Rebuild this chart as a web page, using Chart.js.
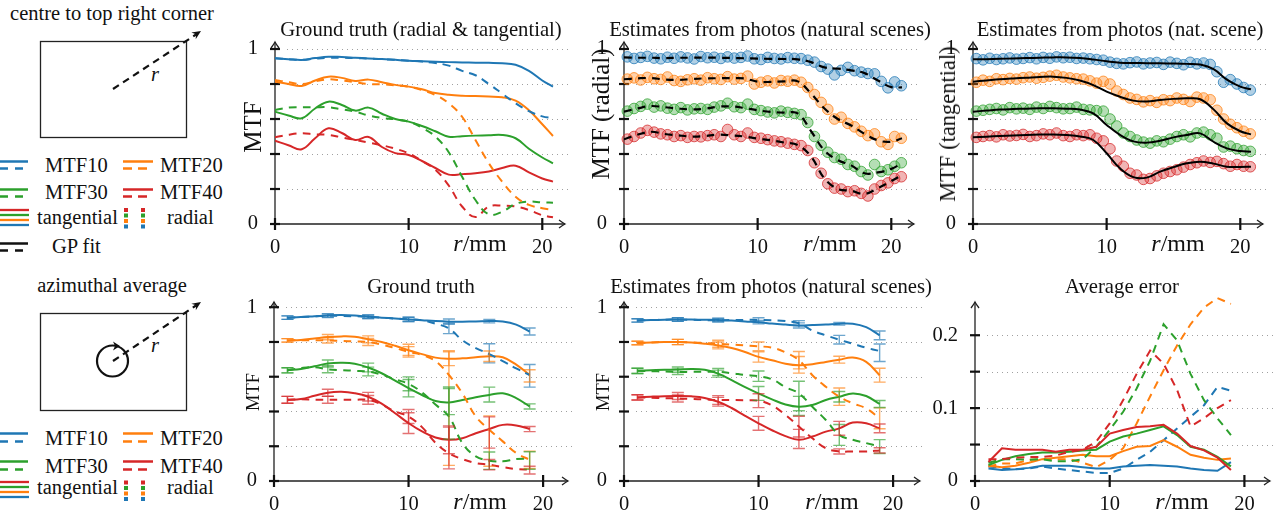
<!DOCTYPE html>
<html>
<head>
<meta charset="utf-8">
<title>MTF</title>
<script src="https://cdn.jsdelivr.net/npm/chart.js@4.4.1/dist/chart.umd.min.js"></script>
<style>
	body { margin: 0; width: 1279px; height: 513px; position: relative; overflow: hidden; background: #fff;
		font-family: "Liberation Serif", "Times New Roman", serif; color: #111; }
	canvas { position: absolute; }
	svg { position: absolute; left: 0; top: 0; }
	.ttl { position: absolute; white-space: nowrap; font-size: 20.7px; transform: translate(-50%, -50%); }
	.xl { position: absolute; white-space: nowrap; font-size: 24px; transform: translate(-50%, -50%); }
	.yl { position: absolute; white-space: nowrap; font-size: 20px; transform: translate(-50%, -50%) rotate(-90deg); }
</style>
</head>
<body>

<svg width="240" height="513" font-family="Liberation Serif, Times New Roman, serif" font-size="20.5" fill="#111">
	<!-- centre to top right corner -->
	<text x="112" y="20" text-anchor="middle">centre to top right corner</text>
	<rect x="40.5" y="41.5" width="146" height="96" fill="none" stroke="#222" stroke-width="1.3"/>
	<line x1="113" y1="89" x2="196" y2="34.5" stroke="#111" stroke-width="2.2" stroke-dasharray="7 5"/>
	<path d="M201,31 L195.7,39.3 L196,34.3 L191.3,32.6 Z" fill="#111"/>
	<text x="155" y="81" font-style="italic" text-anchor="middle">r</text>

	<line x1="0" y1="161.5" x2="28" y2="161.5" stroke="#1f77b4" stroke-width="2.5"/>
	<line x1="0" y1="168.5" x2="28" y2="168.5" stroke="#1f77b4" stroke-width="2.5" stroke-dasharray="8 7"/>
	<text x="45" y="172">MTF10</text>
	<line x1="123" y1="161.5" x2="153" y2="161.5" stroke="#ff7f0e" stroke-width="2.5"/>
	<line x1="123" y1="168.5" x2="153" y2="168.5" stroke="#ff7f0e" stroke-width="2.5" stroke-dasharray="9 6"/>
	<text x="160" y="172">MTF20</text>
	<line x1="0" y1="189.5" x2="28" y2="189.5" stroke="#2ca02c" stroke-width="2.5"/>
	<line x1="0" y1="196.5" x2="28" y2="196.5" stroke="#2ca02c" stroke-width="2.5" stroke-dasharray="8 7"/>
	<text x="45" y="199">MTF30</text>
	<line x1="123" y1="189.5" x2="153" y2="189.5" stroke="#d62728" stroke-width="2.5"/>
	<line x1="123" y1="196.5" x2="153" y2="196.5" stroke="#d62728" stroke-width="2.5" stroke-dasharray="9 6"/>
	<text x="160" y="199">MTF40</text>
	<line x1="0" y1="210" x2="29" y2="210" stroke="#d62728" stroke-width="2.3"/>
	<line x1="0" y1="215" x2="29" y2="215" stroke="#2ca02c" stroke-width="2.3"/>
	<line x1="0" y1="220" x2="29" y2="220" stroke="#ff7f0e" stroke-width="2.3"/>
	<line x1="0" y1="225" x2="29" y2="225" stroke="#1f77b4" stroke-width="2.3"/>
	<text x="37" y="224">tangential</text>
	<rect x="124" y="208" width="4" height="4" fill="#d62728"/><rect x="141" y="208" width="4" height="4" fill="#d62728"/>
	<rect x="124" y="213.5" width="4" height="4" fill="#2ca02c"/><rect x="141" y="213.5" width="4" height="4" fill="#2ca02c"/>
	<rect x="124" y="219" width="4" height="4" fill="#ff7f0e"/><rect x="141" y="219" width="4" height="4" fill="#ff7f0e"/>
	<rect x="124" y="224.5" width="4" height="4" fill="#1f77b4"/><rect x="141" y="224.5" width="4" height="4" fill="#1f77b4"/>
	<text x="167" y="224">radial</text>
	<line x1="0" y1="243.5" x2="28" y2="243.5" stroke="#111" stroke-width="2.5"/>
	<line x1="0" y1="250.5" x2="28" y2="250.5" stroke="#111" stroke-width="2.5" stroke-dasharray="8 7"/>
	<text x="52" y="253">GP fit</text>

	<!-- azimuthal average -->
	<text x="112" y="292" text-anchor="middle">azimuthal average</text>
	<rect x="40.5" y="313.5" width="146" height="97" fill="none" stroke="#222" stroke-width="1.3"/>
	<line x1="113" y1="361" x2="196" y2="305.5" stroke="#111" stroke-width="2.2" stroke-dasharray="7 5"/>
	<path d="M201,302 L195.8,310.3 L196,305.3 L191.3,303.7 Z" fill="#111"/>
	<text x="155" y="352" font-style="italic" text-anchor="middle">r</text>
	<circle cx="112.5" cy="361" r="15.5" fill="none" stroke="#111" stroke-width="2.2"/>
	<path d="M120,346 L113,341.5 L115,346 L113,350.5 Z" fill="#111"/>

	<line x1="0" y1="433.5" x2="28" y2="433.5" stroke="#1f77b4" stroke-width="2.5"/>
	<line x1="0" y1="441.5" x2="28" y2="441.5" stroke="#1f77b4" stroke-width="2.5" stroke-dasharray="8 7"/>
	<text x="45" y="445">MTF10</text>
	<line x1="123" y1="433.5" x2="153" y2="433.5" stroke="#ff7f0e" stroke-width="2.5"/>
	<line x1="123" y1="441.5" x2="153" y2="441.5" stroke="#ff7f0e" stroke-width="2.5" stroke-dasharray="9 6"/>
	<text x="160" y="445">MTF20</text>
	<line x1="0" y1="461.5" x2="28" y2="461.5" stroke="#2ca02c" stroke-width="2.5"/>
	<line x1="0" y1="469.5" x2="28" y2="469.5" stroke="#2ca02c" stroke-width="2.5" stroke-dasharray="8 7"/>
	<text x="45" y="473">MTF30</text>
	<line x1="123" y1="461.5" x2="153" y2="461.5" stroke="#d62728" stroke-width="2.5"/>
	<line x1="123" y1="469.5" x2="153" y2="469.5" stroke="#d62728" stroke-width="2.5" stroke-dasharray="9 6"/>
	<text x="160" y="473">MTF40</text>
	<line x1="0" y1="482" x2="29" y2="482" stroke="#d62728" stroke-width="2.3"/>
	<line x1="0" y1="487" x2="29" y2="487" stroke="#2ca02c" stroke-width="2.3"/>
	<line x1="0" y1="492" x2="29" y2="492" stroke="#ff7f0e" stroke-width="2.3"/>
	<line x1="0" y1="497" x2="29" y2="497" stroke="#1f77b4" stroke-width="2.3"/>
	<text x="37" y="494">tangential</text>
	<rect x="124" y="480.5" width="4" height="4" fill="#d62728"/><rect x="141" y="480.5" width="4" height="4" fill="#d62728"/>
	<rect x="124" y="486" width="4" height="4" fill="#2ca02c"/><rect x="141" y="486" width="4" height="4" fill="#2ca02c"/>
	<rect x="124" y="491.5" width="4" height="4" fill="#ff7f0e"/><rect x="141" y="491.5" width="4" height="4" fill="#ff7f0e"/>
	<rect x="124" y="497" width="4" height="4" fill="#1f77b4"/><rect x="141" y="497" width="4" height="4" fill="#1f77b4"/>
	<text x="167" y="494">radial</text>
</svg>

<canvas id="c1"></canvas>
<canvas id="c2"></canvas>
<canvas id="c3"></canvas>
<canvas id="c4"></canvas>
<canvas id="c5"></canvas>
<canvas id="c6"></canvas>

<div class="ttl" style="left:421px;top:29px">Ground truth (radial &amp; tangential)</div>
<div class="ttl" style="left:770px;top:29px">Estimates from photos (natural scenes)</div>
<div class="ttl" style="left:1120px;top:29px">Estimates from photos (nat. scene)</div>
<div class="ttl" style="left:421px;top:286px">Ground truth</div>
<div class="ttl" style="left:771px;top:286px">Estimates from photos (natural scenes)</div>
<div class="ttl" style="left:1122px;top:286px">Average error</div>

<div class="yl" style="left:253px;top:127px;font-size:25px">MTF</div>
<div class="yl" style="left:601px;top:114px;font-size:25px">MTF (radial)</div>
<div class="yl" style="left:948px;top:124px;font-size:22.5px">MTF (tangential)</div>
<div class="yl" style="left:253px;top:392px;font-size:18.5px">MTF</div>
<div class="yl" style="left:603px;top:392px;font-size:18.5px">MTF</div>

<div class="xl" style="left:480px;top:243px"><i>r</i>/mm</div>
<div class="xl" style="left:830px;top:243px"><i>r</i>/mm</div>
<div class="xl" style="left:1178px;top:243px"><i>r</i>/mm</div>
<div class="xl" style="left:480px;top:501px"><i>r</i>/mm</div>
<div class="xl" style="left:832px;top:501px"><i>r</i>/mm</div>
<div class="xl" style="left:1182px;top:501px"><i>r</i>/mm</div>

<script>
// r positions (mm)
const xTop = [0, 1, 2, 3, 4, 5, 6, 7, 8, 9, 10, 11, 12, 13, 14, 15, 16, 17, 18, 19, 20, 20.8];
const xDots = [0.25, 0.75, 1.25, 1.75, 2.25, 2.75, 3.25, 3.75, 4.25, 4.75, 5.25, 5.75, 6.25, 6.75,
	7.25, 7.75, 8.25, 8.75, 9.25, 9.75, 10.25, 10.75, 11.25, 11.75, 12.25, 12.75, 13.25, 13.75,
	14.25, 14.75, 15.25, 15.75, 16.25, 16.75, 17.25, 17.75, 18.25, 18.75, 19.25, 19.75, 20.25, 20.75];
const xAvg = [1, 2, 3, 4, 5, 6, 7, 8, 9, 10, 11, 12, 13, 14, 15, 16, 17, 18, 19];
const xErr = [1, 4, 7, 10, 13, 16, 19];

// Ground truth (radial & tangential)
const gtTanBlue = [0.947,0.942,0.937,0.948,0.956,0.954,0.95,0.946,0.943,0.938,0.933,0.93,0.927,0.925,0.923,0.922,0.921,0.919,0.91,0.875,0.82,0.785];
const gtRadBlue = [0.947,0.942,0.938,0.945,0.95,0.95,0.948,0.945,0.942,0.938,0.933,0.928,0.92,0.905,0.875,0.85,0.8,0.745,0.69,0.645,0.615,0.605];
const gtTanOrange = [0.813,0.8,0.789,0.82,0.842,0.835,0.817,0.825,0.81,0.795,0.785,0.77,0.748,0.738,0.733,0.731,0.728,0.724,0.705,0.65,0.57,0.503];
const gtRadOrange = [0.823,0.81,0.8,0.815,0.827,0.82,0.81,0.8,0.798,0.792,0.785,0.765,0.737,0.69,0.613,0.48,0.347,0.242,0.156,0.109,0.09,0.08];
const gtTanGreen = [0.642,0.62,0.604,0.66,0.699,0.68,0.648,0.665,0.63,0.6,0.585,0.56,0.53,0.499,0.502,0.505,0.507,0.509,0.49,0.43,0.38,0.347];
const gtRadGreen = [0.651,0.665,0.667,0.667,0.667,0.655,0.642,0.62,0.606,0.598,0.585,0.55,0.5,0.41,0.27,0.137,0.055,0.07,0.115,0.128,0.123,0.122];
const gtTanRed = [0.476,0.45,0.427,0.49,0.547,0.52,0.48,0.497,0.44,0.405,0.394,0.36,0.32,0.282,0.285,0.29,0.3,0.32,0.333,0.295,0.26,0.242];
const gtRadRed = [0.495,0.51,0.518,0.512,0.509,0.495,0.48,0.465,0.45,0.43,0.404,0.36,0.31,0.22,0.1,0.04,0.1,0.105,0.1,0.08,0.05,0.038];

// Estimates, radial: GP fit + per-photo estimates
const fitRadBlue = [0.952,0.95,0.95,0.948,0.95,0.95,0.951,0.95,0.949,0.947,0.945,0.944,0.943,0.941,0.925,0.895,0.888,0.878,0.862,0.82,0.782,0.781];
const fitRadOrange = [0.827,0.832,0.834,0.826,0.823,0.828,0.832,0.833,0.833,0.832,0.813,0.812,0.815,0.815,0.745,0.66,0.6,0.563,0.515,0.478,0.47,0.49];
const fitRadGreen = [0.642,0.66,0.674,0.668,0.66,0.655,0.658,0.67,0.672,0.663,0.65,0.64,0.636,0.632,0.53,0.42,0.365,0.335,0.29,0.295,0.315,0.347];
const fitRadRed = [0.484,0.51,0.527,0.515,0.507,0.5,0.502,0.51,0.507,0.5,0.488,0.478,0.465,0.451,0.385,0.26,0.2,0.19,0.172,0.205,0.245,0.28];
const dotRadBlue = [0.955,0.946,0.952,0.958,0.948,0.944,0.953,0.947,0.955,0.949,0.943,0.957,0.95,0.953,0.946,0.955,0.948,0.952,0.96,0.944,0.94,0.952,0.946,0.943,0.951,0.947,0.945,0.936,0.925,0.9,0.885,0.852,0.878,0.895,0.876,0.868,0.86,0.858,0.815,0.778,0.812,0.79];
const dotRadOrange = [0.828,0.835,0.823,0.838,0.83,0.826,0.84,0.82,0.815,0.824,0.83,0.822,0.836,0.83,0.826,0.842,0.828,0.832,0.845,0.8,0.81,0.818,0.806,0.82,0.816,0.822,0.81,0.78,0.74,0.695,0.655,0.6,0.61,0.575,0.555,0.53,0.505,0.515,0.47,0.455,0.5,0.49];
const dotRadGreen = [0.645,0.66,0.672,0.685,0.668,0.675,0.662,0.655,0.665,0.652,0.658,0.66,0.655,0.668,0.675,0.69,0.67,0.665,0.685,0.655,0.648,0.64,0.635,0.645,0.638,0.632,0.625,0.58,0.5,0.45,0.41,0.38,0.37,0.34,0.33,0.3,0.28,0.34,0.3,0.31,0.33,0.35];
const dotRadRed = [0.485,0.5,0.52,0.535,0.525,0.515,0.51,0.5,0.505,0.495,0.5,0.498,0.505,0.51,0.5,0.54,0.51,0.5,0.52,0.495,0.49,0.482,0.475,0.47,0.462,0.455,0.448,0.42,0.35,0.29,0.23,0.205,0.2,0.185,0.19,0.175,0.16,0.2,0.22,0.235,0.26,0.27];

// Estimates, tangential
const fitTanBlue = [0.941,0.942,0.944,0.946,0.948,0.95,0.952,0.952,0.948,0.94,0.93,0.922,0.92,0.919,0.918,0.917,0.915,0.911,0.885,0.825,0.785,0.77];
const fitTanOrange = [0.813,0.82,0.827,0.832,0.836,0.84,0.842,0.835,0.82,0.794,0.756,0.727,0.705,0.7,0.709,0.715,0.718,0.713,0.655,0.575,0.53,0.512];
const fitTanGreen = [0.642,0.648,0.654,0.657,0.659,0.661,0.661,0.659,0.654,0.632,0.566,0.509,0.472,0.465,0.476,0.495,0.509,0.518,0.47,0.432,0.417,0.413];
const fitTanRed = [0.495,0.499,0.503,0.506,0.509,0.511,0.512,0.508,0.5,0.48,0.404,0.318,0.268,0.265,0.299,0.325,0.347,0.356,0.345,0.327,0.326,0.327];
const dotTanBlue = [0.945,0.938,0.947,0.94,0.944,0.949,0.942,0.946,0.951,0.944,0.952,0.947,0.955,0.95,0.953,0.946,0.948,0.944,0.94,0.936,0.925,0.918,0.915,0.922,0.926,0.915,0.92,0.923,0.912,0.925,0.918,0.91,0.924,0.915,0.92,0.912,0.87,0.81,0.825,0.8,0.78,0.765];
const dotTanOrange = [0.81,0.822,0.815,0.83,0.825,0.832,0.828,0.836,0.84,0.833,0.838,0.845,0.85,0.84,0.835,0.83,0.828,0.818,0.805,0.815,0.8,0.76,0.74,0.72,0.712,0.698,0.705,0.695,0.71,0.705,0.72,0.712,0.7,0.725,0.72,0.71,0.65,0.6,0.57,0.55,0.53,0.515];
const dotTanGreen = [0.645,0.65,0.655,0.66,0.652,0.665,0.658,0.662,0.655,0.668,0.66,0.672,0.665,0.658,0.66,0.668,0.655,0.652,0.648,0.645,0.6,0.56,0.52,0.5,0.48,0.468,0.462,0.475,0.47,0.485,0.5,0.51,0.498,0.52,0.525,0.51,0.49,0.44,0.445,0.43,0.42,0.415];
const dotTanRed = [0.495,0.5,0.505,0.498,0.51,0.503,0.506,0.512,0.5,0.505,0.515,0.51,0.52,0.505,0.5,0.51,0.505,0.51,0.49,0.475,0.43,0.36,0.33,0.29,0.28,0.255,0.26,0.275,0.29,0.3,0.31,0.325,0.34,0.35,0.36,0.352,0.358,0.345,0.33,0.34,0.33,0.327];

// Ground truth, azimuthal average
const gtAvgTanBlue = [0.94,0.943,0.948,0.953,0.955,0.952,0.945,0.94,0.935,0.93,0.925,0.92,0.917,0.917,0.918,0.92,0.918,0.9,0.86];
const gtAvgRadBlue = [0.94,0.943,0.947,0.95,0.95,0.948,0.945,0.94,0.935,0.93,0.925,0.905,0.878,0.81,0.765,0.73,0.69,0.648,0.61];
const gtAvgTanOrange = [0.809,0.812,0.82,0.828,0.832,0.83,0.815,0.8,0.778,0.752,0.73,0.71,0.704,0.706,0.712,0.718,0.712,0.67,0.61];
const gtAvgRadOrange = [0.809,0.81,0.81,0.809,0.806,0.803,0.8,0.785,0.765,0.743,0.725,0.69,0.61,0.504,0.371,0.295,0.228,0.161,0.122];
const gtAvgTanGreen = [0.637,0.645,0.66,0.676,0.68,0.675,0.653,0.62,0.578,0.534,0.495,0.46,0.452,0.466,0.482,0.495,0.505,0.477,0.429];
const gtAvgRadGreen = [0.637,0.65,0.655,0.643,0.638,0.634,0.63,0.612,0.585,0.559,0.51,0.44,0.371,0.218,0.142,0.117,0.113,0.126,0.128];
const gtAvgTanRed = [0.467,0.472,0.49,0.508,0.513,0.505,0.485,0.445,0.39,0.333,0.285,0.25,0.237,0.246,0.275,0.299,0.323,0.32,0.299];
const gtAvgRadRed = [0.467,0.47,0.468,0.467,0.467,0.467,0.467,0.44,0.4,0.371,0.31,0.22,0.16,0.126,0.103,0.094,0.08,0.069,0.065];
// error bars [down, up] at xErr
const gtErrTanBlue = [[.01,.01],[.01,.01],[.01,.01],[.012,.012],[.015,.015],[.01,.01],[.02,.02]];
const gtErrRadBlue = [[.01,.01],[.01,.01],[.01,.01],[.012,.012],[.03,.03],[.05,.06],[.07,.06]];
const gtErrTanOrange = [[.01,.01],[.015,.015],[.02,.02],[.03,.035],[.04,.04],[.03,.03],[.04,.03]];
const gtErrRadOrange = [[.01,.01],[.015,.015],[.02,.02],[.03,.03],[.52,.14],[.21,.08],[.05,.05]];
const gtErrTanGreen = [[.015,.015],[.02,.02],[.025,.025],[.05,.05],[.07,.08],[.04,.045],[.015,.015]];
const gtErrRadGreen = [[.015,.015],[.02,.02],[.025,.025],[.04,.04],[.13,.17],[.05,.05],[.06,.04]];
const gtErrTanRed = [[.02,.02],[.02,.02],[.025,.025],[.06,.06],[.08,.08],[.11,.07],[.015,.015]];
const gtErrRadRed = [[.02,.02],[.02,.02],[.025,.025],[.04,.04],[.09,.15],[.03,.03],[.025,.02]];

// Estimates, azimuthal average
const estAvgTanBlue = [0.924,0.926,0.928,0.929,0.929,0.928,0.927,0.923,0.918,0.914,0.906,0.9,0.895,0.897,0.9,0.905,0.905,0.885,0.838];
const estAvgRadBlue = [0.924,0.926,0.928,0.929,0.928,0.926,0.925,0.926,0.927,0.927,0.925,0.92,0.908,0.866,0.838,0.813,0.79,0.767,0.748];
const estAvgTanOrange = [0.794,0.797,0.8,0.8,0.797,0.79,0.78,0.765,0.742,0.714,0.695,0.675,0.666,0.672,0.685,0.698,0.71,0.685,0.609];
const estAvgRadOrange = [0.794,0.797,0.8,0.8,0.797,0.794,0.79,0.785,0.78,0.775,0.767,0.74,0.695,0.609,0.542,0.485,0.447,0.418,0.361];
const estAvgTanGreen = [0.634,0.637,0.64,0.641,0.645,0.64,0.618,0.58,0.54,0.504,0.47,0.44,0.427,0.437,0.466,0.485,0.504,0.489,0.443];
const estAvgRadGreen = [0.634,0.632,0.63,0.628,0.628,0.628,0.628,0.62,0.61,0.603,0.585,0.54,0.504,0.427,0.351,0.265,0.237,0.218,0.198];
const estAvgTanRed = [0.481,0.485,0.488,0.489,0.487,0.478,0.456,0.42,0.375,0.332,0.292,0.258,0.237,0.256,0.284,0.303,0.336,0.332,0.303];
const estAvgRadRed = [0.481,0.479,0.477,0.475,0.472,0.469,0.466,0.466,0.465,0.462,0.435,0.38,0.313,0.246,0.189,0.17,0.17,0.17,0.176];
const estErrTanBlue = [[.01,.01],[.01,.01],[.01,.01],[.01,.01],[.015,.015],[.008,.008],[.025,.025]];
const estErrRadBlue = [[.01,.01],[.01,.01],[.01,.01],[.012,.012],[.015,.015],[.025,.025],[.06,.04]];
const estErrTanOrange = [[.01,.01],[.015,.015],[.02,.02],[.03,.03],[.045,.05],[.02,.02],[.04,.04]];
const estErrRadOrange = [[.01,.01],[.015,.015],[.02,.02],[.025,.025],[.05,.05],[.05,.05],[.06,.06]];
const estErrTanGreen = [[.015,.015],[.015,.015],[.02,.02],[.04,.04],[.05,.06],[.03,.03],[.02,.02]];
const estErrRadGreen = [[.015,.015],[.015,.015],[.02,.02],[.03,.03],[.1,.07],[.06,.06],[.04,.04]];
const estErrTanRed = [[.015,.015],[.02,.02],[.025,.025],[.04,.04],[.05,.06],[.04,.04],[.025,.025]];
const estErrRadRed = [[.015,.015],[.02,.02],[.025,.025],[.04,.04],[.06,.06],[.015,.015],[.015,.015]];

// Average error
const errTanBlue = [0.017,0.015,0.016,0.018,0.021,0.021,0.021,0.019,0.017,0.017,0.02,0.021,0.022,0.021,0.02,0.017,0.015,0.014,0.026];
const errRadBlue = [0.02,0.018,0.016,0.017,0.02,0.017,0.015,0.013,0.011,0.011,0.017,0.029,0.04,0.056,0.072,0.088,0.104,0.129,0.124];
const errTanOrange = [0.021,0.019,0.021,0.025,0.03,0.032,0.034,0.036,0.034,0.034,0.041,0.047,0.048,0.056,0.047,0.036,0.032,0.029,0.031];
const errRadOrange = [0.02,0.024,0.024,0.029,0.03,0.03,0.03,0.025,0.019,0.029,0.045,0.079,0.116,0.152,0.186,0.215,0.238,0.251,0.243];
const errTanGreen = [0.022,0.029,0.034,0.037,0.039,0.039,0.04,0.042,0.043,0.054,0.061,0.065,0.07,0.075,0.063,0.047,0.043,0.033,0.02];
const errRadGreen = [0.025,0.03,0.03,0.029,0.03,0.027,0.027,0.03,0.047,0.07,0.095,0.127,0.165,0.215,0.193,0.147,0.111,0.086,0.063];
const errTanRed = [0.026,0.045,0.043,0.043,0.043,0.04,0.043,0.043,0.047,0.065,0.07,0.074,0.075,0.077,0.065,0.048,0.042,0.032,0.015];
const errRadRed = [0.03,0.03,0.032,0.033,0.033,0.035,0.04,0.043,0.054,0.079,0.111,0.147,0.179,0.161,0.125,0.075,0.086,0.1,0.111];

const blue = [31, 119, 180], orange = [255, 127, 14], green = [44, 160, 44], red = [214, 39, 40];
const rgba = (c, a) => 'rgba(' + c.join(',') + ',' + a + ')';
const serif = '"Liberation Serif", "Times New Roman", serif';

function line(xs, ys, col, dashed, extra) {
	return Object.assign({
		data: xs.map((x, i) => ({ x: x, y: ys[i] })),
		borderColor: rgba(col, 1),
		borderWidth: 2,
		borderDash: dashed ? [8, 6] : [],
		pointRadius: 0,
		tension: 0.4,
		fill: false
	}, extra || {});
}

function dots(ys, col) {
	return {
		data: xDots.map((x, i) => ({ x: x, y: ys[i] })),
		showLine: false,
		pointRadius: 5.3,
		pointBackgroundColor: rgba(col, 0.35),
		pointBorderColor: rgba(col, 0.75),
		pointBorderWidth: 1,
		clip: 10
	};
}

function chevron(ctx, x, y, dx, dy) {
	let nx = -dy, ny = dx;
	ctx.beginPath();
	ctx.moveTo(x - 6 * dx + 4 * nx, y - 6 * dy + 4 * ny);
	ctx.quadraticCurveTo(x - 2 * dx + 1 * nx, y - 2 * dy + 1 * ny, x, y);
	ctx.quadraticCurveTo(x - 2 * dx - 1 * nx, y - 2 * dy - 1 * ny, x - 6 * dx - 4 * nx, y - 6 * dy - 4 * ny);
	ctx.stroke();
}

// axes with arrows, ticks crossing the axis, dotted grid
const axesDeco = {
	id: 'axesDeco',
	beforeDatasetsDraw(chart) {
		let { ctx, chartArea: a, scales: { x, y } } = chart;
		let x0 = x.getPixelForValue(0), y0 = y.getPixelForValue(0);
		ctx.save();
		ctx.strokeStyle = '#a0a0a0';
		ctx.lineWidth = 1;
		ctx.setLineDash([1, 4]);
		y.ticks.forEach(t => {
			if (t.value === 0) return;
			let py = Math.round(y.getPixelForValue(t.value)) + 0.5;
			ctx.beginPath(); ctx.moveTo(x0 + 12, py); ctx.lineTo(a.right + 4, py); ctx.stroke();
		});
		ctx.setLineDash([]);
		ctx.strokeStyle = '#222';
		ctx.lineWidth = 1.3;
		ctx.beginPath();
		ctx.moveTo(x0, y0); ctx.lineTo(x0, a.top);
		ctx.moveTo(x0, y0); ctx.lineTo(a.right, y0);
		ctx.stroke();
		chevron(ctx, x0, a.top, 0, -1);
		chevron(ctx, a.right, y0, 1, 0);
		ctx.strokeStyle = '#111';
		ctx.lineWidth = 2.2;
		y.ticks.forEach(t => {
			let py = y.getPixelForValue(t.value);
			ctx.beginPath(); ctx.moveTo(x0 - 5, py); ctx.lineTo(x0 + 5, py); ctx.stroke();
		});
		x.ticks.forEach(t => {
			let px = x.getPixelForValue(t.value);
			ctx.beginPath(); ctx.moveTo(px, y0 - 6); ctx.lineTo(px, y0 + 6); ctx.stroke();
		});
		ctx.restore();
	}
};

// error bars for the averaged panels
const errorBars = {
	id: 'errorBars',
	afterDatasetsDraw(chart) {
		let { ctx, scales: { x, y } } = chart;
		chart.data.datasets.forEach(ds => {
			if (!ds.errorBars) return;
			ctx.save();
			ctx.strokeStyle = ds.errColor;
			ctx.lineWidth = 1.4;
			xErr.forEach((xv, i) => {
				let pt = ds.data.find(p => p.x === xv);
				let px = x.getPixelForValue(xv);
				let lo = y.getPixelForValue(pt.y - ds.errorBars[i][0]);
				let hi = y.getPixelForValue(pt.y + ds.errorBars[i][1]);
				ctx.beginPath();
				ctx.moveTo(px, lo); ctx.lineTo(px, hi);
				ctx.moveTo(px - 6, lo); ctx.lineTo(px + 6, lo);
				ctx.moveTo(px - 6, hi); ctx.lineTo(px + 6, hi);
				ctx.stroke();
			});
			ctx.restore();
		});
	}
};

const padTop = 32, padRight = 14, yAxisW = 45, xAxisH = 36;
const mtfLabel = v => Math.abs(v - 1) < 1e-6 ? '1' : (v === 0 ? '0' : '');
const errLabel = v => v === 0 ? '0' : (Math.abs(v - 0.1) < 1e-6 ? '0.1' : (Math.abs(v - 0.2) < 1e-6 ? '0.2' : ''));

function panel(id, box, xMax, yMax, yStep, yLabel, datasets) {
	let cv = document.getElementById(id);
	cv.width = box.R - box.L + yAxisW + padRight;
	cv.height = box.B - box.T + padTop + xAxisH;
	cv.style.left = (box.L - yAxisW) + 'px';
	cv.style.top = (box.T - padTop) + 'px';
	return new Chart(cv, {
		type: 'line',
		data: { datasets: datasets },
		options: {
			responsive: false,
			animation: false,
			devicePixelRatio: 1,
			layout: { padding: { top: padTop, right: padRight, left: 0, bottom: 0 } },
			plugins: { legend: { display: false }, tooltip: { enabled: false } },
			scales: {
				x: {
					type: 'linear', min: 0, max: xMax,
					border: { display: false },
					grid: { display: false, drawTicks: false },
					ticks: {
						stepSize: 10, includeBounds: false, autoSkip: false, maxRotation: 0, padding: 11,
						color: '#111', font: { family: serif, size: 20.5 },
						callback: v => (v % 10 === 0 ? String(v) : '')
					},
					afterFit: s => { s.height = xAxisH; }
				},
				y: {
					type: 'linear', min: 0, max: yMax,
					border: { display: false },
					grid: { display: false, drawTicks: false },
					ticks: {
						stepSize: yStep, includeBounds: false, autoSkip: false, padding: 17,
						color: '#111', font: { family: serif, size: 20.5 },
						callback: yLabel
					},
					afterFit: s => { s.width = yAxisW; }
				}
			}
		},
		plugins: [axesDeco, errorBars]
	});
}

// Ground truth (radial & tangential)
panel('c1', { L: 275, T: 42, R: 565, B: 224 }, 21.7, 1.04, 0.2, mtfLabel, [
	line(xTop, gtTanBlue, blue, false), line(xTop, gtRadBlue, blue, true),
	line(xTop, gtTanOrange, orange, false), line(xTop, gtRadOrange, orange, true),
	line(xTop, gtTanGreen, green, false), line(xTop, gtRadGreen, green, true),
	line(xTop, gtTanRed, red, false), line(xTop, gtRadRed, red, true)
]);

// Estimates, radial
panel('c2', { L: 624, T: 42, R: 914, B: 224 }, 21.7, 1.04, 0.2, mtfLabel, [
	line(xTop, fitRadBlue, [0, 0, 0], true, { borderWidth: 2.2 }),
	line(xTop, fitRadOrange, [0, 0, 0], true, { borderWidth: 2.2 }),
	line(xTop, fitRadGreen, [0, 0, 0], true, { borderWidth: 2.2 }),
	line(xTop, fitRadRed, [0, 0, 0], true, { borderWidth: 2.2 }),
	dots(dotRadBlue, blue), dots(dotRadOrange, orange), dots(dotRadGreen, green), dots(dotRadRed, red)
]);

// Estimates, tangential
panel('c3', { L: 973, T: 42, R: 1263, B: 224 }, 21.7, 1.04, 0.2, mtfLabel, [
	line(xTop, fitTanBlue, [0, 0, 0], false), line(xTop, fitTanOrange, [0, 0, 0], false),
	line(xTop, fitTanGreen, [0, 0, 0], false), line(xTop, fitTanRed, [0, 0, 0], false),
	dots(dotTanBlue, blue), dots(dotTanOrange, orange), dots(dotTanGreen, green), dots(dotTanRed, red)
]);

function avgLine(ys, col, dashed, errs) {
	return line(xAvg, ys, col, dashed, { errorBars: errs, errColor: rgba(col, 0.65) });
}

// Ground truth, azimuthal average
panel('c4', { L: 274, T: 302, R: 568, B: 481 }, 21.85, 1.03, 0.2, mtfLabel, [
	avgLine(gtAvgTanBlue, blue, false, gtErrTanBlue), avgLine(gtAvgRadBlue, blue, true, gtErrRadBlue),
	avgLine(gtAvgTanOrange, orange, false, gtErrTanOrange), avgLine(gtAvgRadOrange, orange, true, gtErrRadOrange),
	avgLine(gtAvgTanGreen, green, false, gtErrTanGreen), avgLine(gtAvgRadGreen, green, true, gtErrRadGreen),
	avgLine(gtAvgTanRed, red, false, gtErrTanRed), avgLine(gtAvgRadRed, red, true, gtErrRadRed)
]);

// Estimates, azimuthal average
panel('c5', { L: 624, T: 302, R: 920, B: 481 }, 22, 1.03, 0.2, mtfLabel, [
	avgLine(estAvgTanBlue, blue, false, estErrTanBlue), avgLine(estAvgRadBlue, blue, true, estErrRadBlue),
	avgLine(estAvgTanOrange, orange, false, estErrTanOrange), avgLine(estAvgRadOrange, orange, true, estErrRadOrange),
	avgLine(estAvgTanGreen, green, false, estErrTanGreen), avgLine(estAvgRadGreen, green, true, estErrRadGreen),
	avgLine(estAvgTanRed, red, false, estErrTanRed), avgLine(estAvgRadRed, red, true, estErrRadRed)
]);

// Average error (the orange radial peak goes a little past the arrow, as in the original)
const noClip = { tension: 0, clip: false };
panel('c6', { L: 975, T: 302, R: 1270, B: 481 }, 21.9, 0.2456, 0.05, errLabel, [
	line(xAvg, errTanRed, red, false, noClip), line(xAvg, errRadRed, red, true, noClip),
	line(xAvg, errTanGreen, green, false, noClip), line(xAvg, errRadGreen, green, true, noClip),
	line(xAvg, errTanOrange, orange, false, noClip), line(xAvg, errRadOrange, orange, true, noClip),
	line(xAvg, errTanBlue, blue, false, noClip), line(xAvg, errRadBlue, blue, true, noClip)
]);
</script>
</body>
</html>
